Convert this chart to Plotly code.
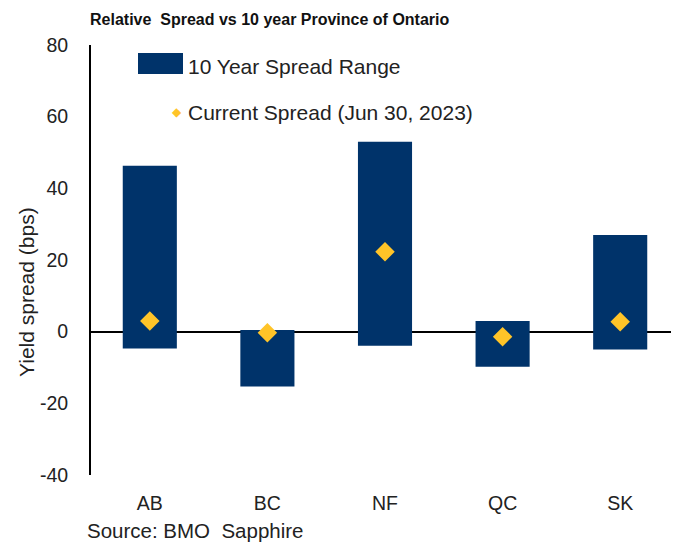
import plotly.graph_objects as go

categories = ["AB", "BC", "NF", "QC", "SK"]
range_high = [46.3, 0.5, 53.0, 3.0, 27.0]
range_low = [-4.7, -15.3, -3.9, -9.8, -5.0]
current = [3.0, -0.3, 22.3, -1.4, 2.8]
y_ticks = [-40, -20, 0, 20, 40, 60, 80]
y_tick_labels = ["-40", "-20", "0", "20", "40", "60", "80"]

NAVY = "#00336A"
GOLD = "#FFC428"
FONT = "Liberation Sans, Arial, sans-serif"

# plot area in page pixels: x 91..679, y 45..475 (page has 8px body offset)
X0, X1, Y0, Y1 = 91, 679, 45, 475
PW, PH = X1 - X0, Y1 - Y0
def px(x):
    return (x - X0) / PW
def py(y):
    return (Y1 - y) / PH

fig = go.Figure()
fig.add_trace(go.Bar(
    x=list(range(len(categories))),
    y=[h - l for h, l in zip(range_high, range_low)],
    base=range_low,
    width=0.46,
    marker=dict(color=NAVY, line=dict(width=0)),
    name="10 Year Spread Range",
    showlegend=False,
))
fig.add_trace(go.Scatter(
    x=list(range(len(categories))),
    y=current,
    mode="markers",
    marker=dict(symbol="diamond", size=15, color=GOLD, line=dict(width=0)),
    name="Current Spread (Jun 30, 2023)",
    showlegend=False,
))

fig.update_layout(
    width=679, height=544,
    margin=dict(l=X0 - 8, r=8, t=Y0 - 8, b=544 - Y1 + 8),
    plot_bgcolor="white", paper_bgcolor="white",
    font=dict(family=FONT, size=19, color="#222"),
    xaxis=dict(
        range=[-0.5, 4.5], automargin=False,
        tickmode="array", tickvals=list(range(len(categories))), ticktext=categories,
        showgrid=False, zeroline=False, showline=False, ticks="",
        ticklabelstandoff=14,
        tickfont=dict(size=19.5, color="#222"),
    ),
    yaxis=dict(
        range=[-40, 80], tickmode="array", tickvals=y_ticks, ticktext=y_tick_labels,
        automargin=False,
        showgrid=False, zeroline=True, zerolinecolor="black", zerolinewidth=2,
        showline=True, linecolor="black", linewidth=2, ticks="",
        ticklabelstandoff=17,
        tickfont=dict(size=19.5, color="#222"),
    ),
    shapes=[
        dict(type="rect", xref="paper", yref="paper", x0=px(138), x1=px(183), y0=py(74), y1=py(53),
             fillcolor=NAVY, line=dict(width=0)),
    ],
    annotations=[
        dict(text="<b>Relative  Spread vs 10 year Province of Ontario</b>", xref="paper", yref="paper",
             x=px(88), y=py(20), xanchor="left", yanchor="middle",
             showarrow=False, font=dict(size=16, color="#111")),
        dict(text="Yield spread (bps)", xref="paper", yref="paper", textangle=-90,
             x=px(26), y=py(292), xanchor="center", yanchor="middle",
             showarrow=False, font=dict(size=21, color="#222")),
        dict(text="10 Year Spread Range", xref="paper", yref="paper",
             x=px(186), y=py(67), xanchor="left", yanchor="middle",
             showarrow=False, font=dict(size=21, color="#222")),
        dict(text="\u25c6", xref="paper", yref="paper",
             x=px(177), y=py(112), xanchor="center", yanchor="middle",
             showarrow=False, font=dict(size=12, color=GOLD)),
        dict(text="Current Spread (Jun 30, 2023)", xref="paper", yref="paper",
             x=px(186), y=py(112), xanchor="left", yanchor="middle",
             showarrow=False, font=dict(size=21, color="#222")),
        dict(text="Source: BMO  Sapphire", xref="paper", yref="paper",
             x=px(85), y=py(530), xanchor="left", yanchor="middle",
             showarrow=False, font=dict(size=20.5, color="#222")),
    ],
)

fig.write_html("out.html")
